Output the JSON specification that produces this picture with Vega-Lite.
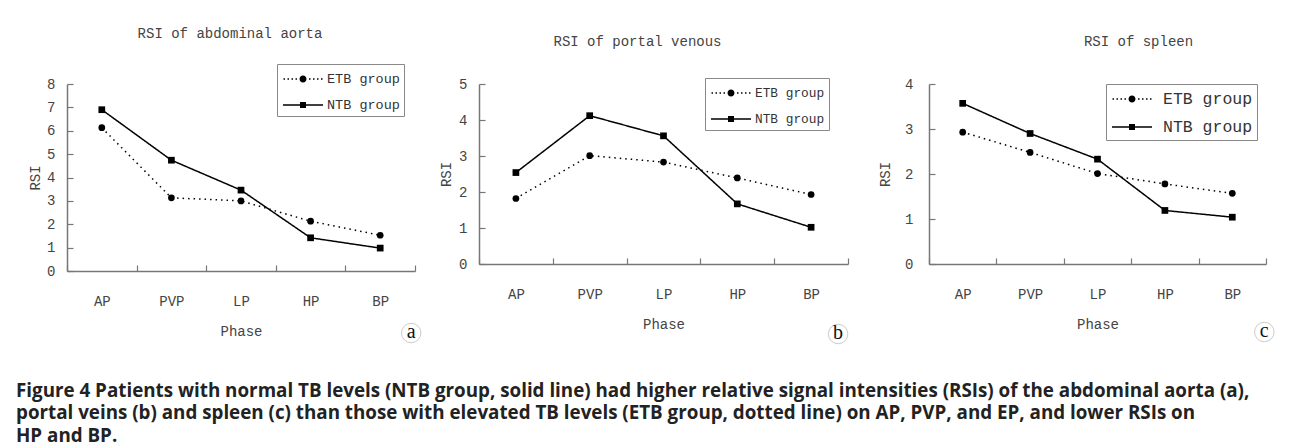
{
  "$schema": "https://vega.github.io/schema/vega-lite/v6.json",
  "autosize": "pad",
  "padding": {"left": 16, "top": 26, "right": 0, "bottom": 3},
  "background": "white",
  "bounds": "flush",
  "spacing": 64,
  "title": {
    "text": [
      "Figure 4 Patients with normal TB levels (NTB group, solid line) had higher relative signal intensities (RSIs) of the abdominal aorta (a),",
      "portal veins (b) and spleen (c) than those with elevated TB levels (ETB group, dotted line) on AP, PVP, and EP, and lower RSIs on",
      "HP and BP."
    ],
    "orient": "bottom",
    "anchor": "start",
    "frame": "group",
    "dx": -51,
    "offset": 36,
    "font": "Open Sans",
    "fontSize": 18.8,
    "fontWeight": "bold",
    "color": "#222",
    "lineHeight": 22.5
  },
  "datasets": {
    "aorta": [
      {"phase": "AP", "group": "ETB group", "rsi": 6.13},
      {"phase": "PVP", "group": "ETB group", "rsi": 3.13},
      {"phase": "LP", "group": "ETB group", "rsi": 3.0},
      {"phase": "HP", "group": "ETB group", "rsi": 2.13},
      {"phase": "BP", "group": "ETB group", "rsi": 1.53},
      {"phase": "AP", "group": "NTB group", "rsi": 6.9},
      {"phase": "PVP", "group": "NTB group", "rsi": 4.74},
      {"phase": "LP", "group": "NTB group", "rsi": 3.46},
      {"phase": "HP", "group": "NTB group", "rsi": 1.42},
      {"phase": "BP", "group": "NTB group", "rsi": 0.98}
    ],
    "portal": [
      {"phase": "AP", "group": "ETB group", "rsi": 1.82},
      {"phase": "PVP", "group": "ETB group", "rsi": 3.01},
      {"phase": "LP", "group": "ETB group", "rsi": 2.83},
      {"phase": "HP", "group": "ETB group", "rsi": 2.39},
      {"phase": "BP", "group": "ETB group", "rsi": 1.93},
      {"phase": "AP", "group": "NTB group", "rsi": 2.54},
      {"phase": "PVP", "group": "NTB group", "rsi": 4.12},
      {"phase": "LP", "group": "NTB group", "rsi": 3.56},
      {"phase": "HP", "group": "NTB group", "rsi": 1.67},
      {"phase": "BP", "group": "NTB group", "rsi": 1.02}
    ],
    "spleen": [
      {"phase": "AP", "group": "ETB group", "rsi": 2.93},
      {"phase": "PVP", "group": "ETB group", "rsi": 2.48},
      {"phase": "LP", "group": "ETB group", "rsi": 2.01},
      {"phase": "HP", "group": "ETB group", "rsi": 1.78},
      {"phase": "BP", "group": "ETB group", "rsi": 1.57},
      {"phase": "AP", "group": "NTB group", "rsi": 3.57},
      {"phase": "PVP", "group": "NTB group", "rsi": 2.9},
      {"phase": "LP", "group": "NTB group", "rsi": 2.33},
      {"phase": "HP", "group": "NTB group", "rsi": 1.19},
      {"phase": "BP", "group": "NTB group", "rsi": 1.04}
    ],
    "labA": [{"phase": "BP", "lbl": "a", "rsi": 0}],
    "labB": [{"phase": "BP", "lbl": "b", "rsi": 0}],
    "labC": [{"phase": "BP", "lbl": "c", "rsi": 0}]
  },
  "hconcat": [
    {
      "width": 348,
      "height": 187,
      "data": {"name": "aorta"},
      "title": {"text": "RSI of abdominal aorta", "dx": -11, "offset": 23},
      "encoding": {
        "x": {"field": "phase", "type": "nominal", "sort": ["AP", "PVP", "LP", "HP", "BP"], "scale": {"type": "band", "paddingInner": 0, "paddingOuter": 0}, "axis": {"title": "Phase"}},
        "y": {"field": "rsi", "type": "quantitative", "scale": {"domain": [0, 8]}, "axis": {"title": "RSI", "values": [0, 1, 2, 3, 4, 5, 6, 7, 8], "labelPadding": 18, "titlePadding": 4}}
      },
      "layer": [
        {"mark": {"type": "line", "color": "black", "strokeWidth": 1.5}, "encoding": {"strokeDash": {"field": "group", "type": "nominal", "scale": {"domain": ["ETB group", "NTB group"], "range": [[1.5, 4], [1, 0]]}, "legend": null}}},
        {"mark": {"type": "point", "filled": true, "color": "black", "opacity": 1, "size": 45},
         "encoding": {"shape": {"field": "group", "type": "nominal", "scale": {"domain": ["ETB group", "NTB group"], "range": ["circle", "square"]}, "legend": null}}},
        {"transform": [{"filter": "false"}],
         "mark": {"type": "point", "filled": true, "color": "black", "opacity": 1},
         "encoding": {
           "shape": {"field": "group", "type": "nominal", "scale": {"domain": ["ETB group", "NTB group"], "range": ["M-1.95,-0.07h0.15v0.14h-0.15ZM-1.55,-0.07h0.15v0.14h-0.15ZM-1.15,-0.07h0.15v0.14h-0.15ZM-0.75,-0.07h0.15v0.14h-0.15ZM0.6,-0.07h0.15v0.14h-0.15ZM1.0,-0.07h0.15v0.14h-0.15ZM1.4,-0.07h0.15v0.14h-0.15ZM1.8,-0.07h0.15v0.14h-0.15ZM0.35,0A0.35,0.35,0,1,1,-0.35,0A0.35,0.35,0,1,1,0.35,0Z", "M-2,-0.07H2V0.07H-2ZM-0.3,-0.3H0.3V0.3H-0.3Z"]},
             "legend": {"title": null, "orient": "none", "legendX": 210, "legendY": -20}}}},
        {"data": {"name": "labA"}, "mark": {"type": "point", "shape": "circle", "size": 380, "stroke": "#ccc", "strokeWidth": 1, "filled": false, "opacity": 1, "xOffset": 31, "yOffset": 62}},
        {"data": {"name": "labA"}, "mark": {"type": "text", "font": "Liberation Serif", "fontSize": 20, "color": "#111", "xOffset": 31, "yOffset": 61}, "encoding": {"text": {"field": "lbl"}}}
      ],
      "resolve": {"scale": {"shape": "independent", "strokeDash": "independent"}}
    },
    {
      "spacing": 81,
      "bounds": "flush",
      "hconcat": [
        {
          "width": 369,
          "height": 180,
          "data": {"name": "portal"},
          "title": {"text": "RSI of portal venous", "dx": -26, "offset": 28},
          "encoding": {
            "x": {"field": "phase", "type": "nominal", "sort": ["AP", "PVP", "LP", "HP", "BP"], "scale": {"type": "band", "paddingInner": 0, "paddingOuter": 0}, "axis": {"title": "Phase"}},
            "y": {"field": "rsi", "type": "quantitative", "scale": {"domain": [0, 5]}, "axis": {"title": "RSI", "values": [0, 1, 2, 3, 4, 5], "labelPadding": 18, "titlePadding": 5}}
          },
          "layer": [
            {"mark": {"type": "line", "color": "black", "strokeWidth": 1.5}, "encoding": {"strokeDash": {"field": "group", "type": "nominal", "scale": {"domain": ["ETB group", "NTB group"], "range": [[1.5, 4], [1, 0]]}, "legend": null}}},
            {"mark": {"type": "point", "filled": true, "color": "black", "opacity": 1, "size": 45},
             "encoding": {"shape": {"field": "group", "type": "nominal", "scale": {"domain": ["ETB group", "NTB group"], "range": ["circle", "square"]}, "legend": null}}},
            {"transform": [{"filter": "false"}],
             "mark": {"type": "point", "filled": true, "color": "black", "opacity": 1},
             "encoding": {
               "shape": {"field": "group", "type": "nominal", "scale": {"domain": ["ETB group", "NTB group"], "range": ["M-1.95,-0.07h0.15v0.14h-0.15ZM-1.55,-0.07h0.15v0.14h-0.15ZM-1.15,-0.07h0.15v0.14h-0.15ZM-0.75,-0.07h0.15v0.14h-0.15ZM0.6,-0.07h0.15v0.14h-0.15ZM1.0,-0.07h0.15v0.14h-0.15ZM1.4,-0.07h0.15v0.14h-0.15ZM1.8,-0.07h0.15v0.14h-0.15ZM0.35,0A0.35,0.35,0,1,1,-0.35,0A0.35,0.35,0,1,1,0.35,0Z", "M-2,-0.07H2V0.07H-2ZM-0.3,-0.3H0.3V0.3H-0.3Z"]},
                 "legend": {"title": null, "orient": "none", "legendX": 226, "legendY": -6, "labelFontSize": 12.8}}}},
            {"data": {"name": "labB"}, "mark": {"type": "point", "shape": "circle", "size": 380, "stroke": "#ccc", "strokeWidth": 1, "filled": false, "opacity": 1, "xOffset": 27, "yOffset": 70}},
            {"data": {"name": "labB"}, "mark": {"type": "text", "font": "Liberation Serif", "fontSize": 20, "color": "#111", "xOffset": 27, "yOffset": 69}, "encoding": {"text": {"field": "lbl"}}}
          ],
          "resolve": {"scale": {"shape": "independent", "strokeDash": "independent"}}
        },
        {
          "width": 337,
          "height": 180,
          "data": {"name": "spleen"},
          "title": {"text": "RSI of spleen", "dx": 41, "offset": 28},
          "encoding": {
            "x": {"field": "phase", "type": "nominal", "sort": ["AP", "PVP", "LP", "HP", "BP"], "scale": {"type": "band", "paddingInner": 0, "paddingOuter": 0}, "axis": {"title": "Phase"}},
            "y": {"field": "rsi", "type": "quantitative", "scale": {"domain": [0, 4]}, "axis": {"title": "RSI", "values": [0, 1, 2, 3, 4], "labelPadding": 22, "titlePadding": 12}}
          },
          "layer": [
            {"mark": {"type": "line", "color": "black", "strokeWidth": 1.5}, "encoding": {"strokeDash": {"field": "group", "type": "nominal", "scale": {"domain": ["ETB group", "NTB group"], "range": [[1.5, 4], [1, 0]]}, "legend": null}}},
            {"mark": {"type": "point", "filled": true, "color": "black", "opacity": 1, "size": 45},
             "encoding": {"shape": {"field": "group", "type": "nominal", "scale": {"domain": ["ETB group", "NTB group"], "range": ["circle", "square"]}, "legend": null}}},
            {"transform": [{"filter": "false"}],
             "mark": {"type": "point", "filled": true, "color": "black", "opacity": 1},
             "encoding": {
               "shape": {"field": "group", "type": "nominal", "scale": {"domain": ["ETB group", "NTB group"], "range": ["M-1.95,-0.07h0.15v0.14h-0.15ZM-1.55,-0.07h0.15v0.14h-0.15ZM-1.15,-0.07h0.15v0.14h-0.15ZM-0.75,-0.07h0.15v0.14h-0.15ZM0.6,-0.07h0.15v0.14h-0.15ZM1.0,-0.07h0.15v0.14h-0.15ZM1.4,-0.07h0.15v0.14h-0.15ZM1.8,-0.07h0.15v0.14h-0.15ZM0.35,0A0.35,0.35,0,1,1,-0.35,0A0.35,0.35,0,1,1,0.35,0Z", "M-2,-0.07H2V0.07H-2ZM-0.3,-0.3H0.3V0.3H-0.3Z"]},
                 "legend": {"title": null, "orient": "none", "legendX": 177, "legendY": 0, "labelFontSize": 16.5, "labelOffset": 20}}}},
            {"data": {"name": "labC"}, "mark": {"type": "point", "shape": "circle", "size": 380, "stroke": "#ccc", "strokeWidth": 1, "filled": false, "opacity": 1, "xOffset": 32, "yOffset": 68}},
            {"data": {"name": "labC"}, "mark": {"type": "text", "font": "Liberation Serif", "fontSize": 20, "color": "#111", "xOffset": 32, "yOffset": 67}, "encoding": {"text": {"field": "lbl"}}}
          ],
          "resolve": {"scale": {"shape": "independent", "strokeDash": "independent"}}
        }
      ],
      "resolve": {"scale": {"shape": "independent", "strokeDash": "independent"}, "legend": {"shape": "independent", "strokeDash": "independent"}}
    }
  ],
  "resolve": {"scale": {"shape": "independent", "strokeDash": "independent"}, "legend": {"shape": "independent", "strokeDash": "independent"}},
  "config": {
    "view": {"stroke": null},
    "title": {"font": "Liberation Mono", "fontSize": 14, "fontWeight": "normal", "color": "#444", "anchor": "middle"},
    "axis": {"labelFont": "Liberation Mono", "labelFontSize": 14, "labelColor": "#444", "titleFont": "Liberation Mono", "titleFontSize": 14, "titleFontWeight": "normal", "titleColor": "#444", "domainColor": "#777", "domainWidth": 1.5, "tickColor": "#777", "tickWidth": 1.2, "tickSize": -6, "grid": false},
    "axisX": {"labelAngle": 0, "tickBand": "extent", "labelPadding": 29, "titlePadding": 16},
    "legend": {"labelFont": "Liberation Mono", "labelFontSize": 13.5, "labelColor": "#333", "strokeColor": "#888", "fillColor": "white", "padding": 4, "symbolSize": 400, "rowPadding": 8, "symbolOffset": 11, "labelOffset": 13}
  }
}
